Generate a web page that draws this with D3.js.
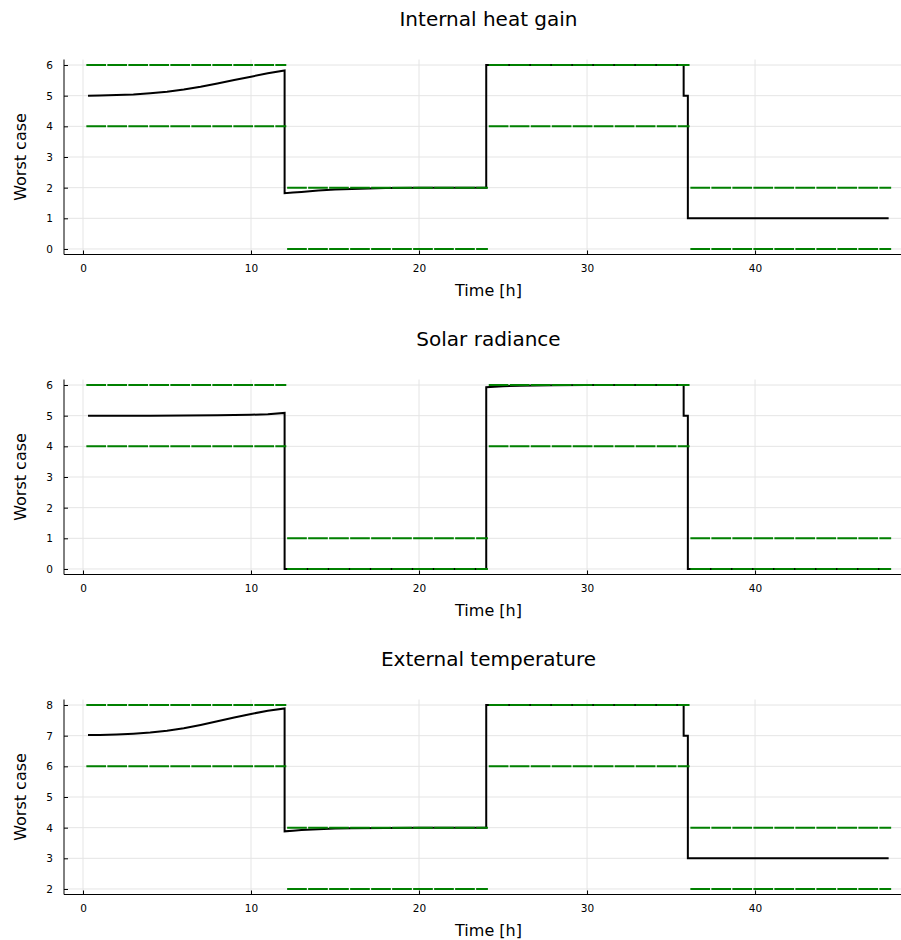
<!DOCTYPE html>
<html>
<head>
<meta charset="utf-8">
<script src="https://cdn.jsdelivr.net/npm/d3@7"></script>
<style>
  body { margin: 0; background: #fff; }
  svg { display: block; font-family: "DejaVu Sans", sans-serif; }
  .grid line { stroke: #e5e5e5; stroke-width: 1; }
  .tick-label { font-size: 10.5px; fill: #000; }
  .title { font-size: 20px; text-anchor: middle; }
  .label { font-size: 16px; text-anchor: middle; }
</style>
</head>
<body>
<div id="chart"></div>
<script>
// ---- data ----
const titles = ["Internal heat gain", "Solar radiance", "External temperature"];
const xTicks = [0, 10, 20, 30, 40];
const yTicks1 = [0, 1, 2, 3, 4, 5, 6];
const yTicks2 = [0, 1, 2, 3, 4, 5, 6];
const yTicks3 = [2, 3, 4, 5, 6, 7, 8];

// worst-case trajectories
const hours1 = [0.3, 1, 2, 3, 4, 5, 6, 7, 8, 9, 10, 11, 12, 12, 12.5, 13, 14, 15, 16, 18, 20, 22, 24, 24, 35.75, 35.75, 36, 36, 47.95];
const worst1 = [5.0, 5.005, 5.02, 5.04, 5.08, 5.13, 5.2, 5.29, 5.4, 5.51, 5.62, 5.73, 5.82, 1.82, 1.84, 1.86, 1.91, 1.94, 1.96, 1.985, 1.995, 2.0, 2.0, 6.0, 6.0, 5.0, 5.0, 1.0, 1.0];

const hours2 = [0.3, 4, 6, 8, 9, 10, 11, 12, 12, 24, 24, 25, 26, 28, 30, 35.75, 35.75, 36, 36, 47.95];
const worst2 = [5.0, 5.0, 5.005, 5.01, 5.02, 5.03, 5.05, 5.09, 0.0, 0.0, 5.93, 5.96, 5.98, 5.99, 6.0, 6.0, 5.0, 5.0, 0.0, 0.0];

const hours3 = [0.3, 1, 2, 3, 4, 5, 6, 7, 8, 9, 10, 11, 12, 12, 12.5, 13, 14, 15, 16, 18, 20, 22, 24, 24, 35.75, 35.75, 36, 36, 47.95];
const worst3 = [7.02, 7.025, 7.04, 7.065, 7.1, 7.16, 7.24, 7.35, 7.47, 7.59, 7.71, 7.81, 7.89, 3.88, 3.9, 3.92, 3.95, 3.97, 3.98, 3.99, 4.0, 4.0, 4.0, 8.0, 8.0, 7.0, 7.0, 3.0, 3.0];

// bound intervals (green dashed lines)
const boundStart = [0.2, 12.15, 24.15, 36.15];
const boundEnd = [12.1, 24.1, 36.1, 48.1];
const upper1 = [6, 2, 6, 2], lower1 = [4, 0, 4, 0];
const upper2 = [6, 1, 6, 1], lower2 = [4, 0, 4, 0];
const upper3 = [8, 4, 8, 4], lower3 = [6, 2, 6, 2];

// ---- layout ----
const width = 901, height = 940;
const plotLeft = 64, plotRight = 913;
const xDomain = [-1.13, 49.4];

const panels = [
  {title: titles[0], hours: hours1, worst: worst1, upper: upper1, lower: lower1, yTicks: yTicks1, yDomain: [-0.18, 6.18], top: 59.5},
  {title: titles[1], hours: hours2, worst: worst2, upper: upper2, lower: lower2, yTicks: yTicks2, yDomain: [-0.18, 6.18], top: 379.5},
  {title: titles[2], hours: hours3, worst: worst3, upper: upper3, lower: lower3, yTicks: yTicks3, yDomain: [1.82, 8.18], top: 699.5}
];
const plotHeight = 195;

const svg = d3.select("#chart").append("svg")
  .attr("width", width)
  .attr("height", height);

const x = d3.scaleLinear().domain(xDomain).range([plotLeft, plotRight]);

panels.forEach(p => {
  const bottom = p.top + plotHeight;
  const y = d3.scaleLinear().domain(p.yDomain).range([bottom, p.top]);
  const g = svg.append("g");

  // grid
  const grid = g.append("g").attr("class", "grid");
  grid.selectAll(".vx").data(xTicks).join("line")
    .attr("x1", d => x(d)).attr("x2", d => x(d))
    .attr("y1", p.top).attr("y2", bottom);
  grid.selectAll(".hy").data(p.yTicks).join("line")
    .attr("x1", plotLeft).attr("x2", plotRight)
    .attr("y1", d => y(d)).attr("y2", d => y(d));

  // worst case line
  const pts = p.hours.map((h, i) => [h, p.worst[i]]);
  g.append("path")
    .datum(pts)
    .attr("fill", "none")
    .attr("stroke", "#000")
    .attr("stroke-width", 2)
    .attr("stroke-linejoin", "miter")
    .attr("d", d3.line().x(d => x(d[0])).y(d => y(d[1])));

  // bounds
  const segs = [];
  boundStart.forEach((s, i) => {
    segs.push({s: s, e: boundEnd[i], v: p.upper[i]});
    segs.push({s: s, e: boundEnd[i], v: p.lower[i]});
  });
  g.selectAll(".bound").data(segs).join("line")
    .attr("class", "bound")
    .attr("x1", d => x(d.s)).attr("x2", d => x(d.e))
    .attr("y1", d => y(d.v)).attr("y2", d => y(d.v))
    .attr("stroke", "#008000")
    .attr("stroke-width", 2)
    .attr("stroke-dasharray", "19.7,1.3");

  // axes
  const xAxis = d3.axisBottom(x).tickValues(xTicks).tickFormat(d3.format("d")).tickSize(-4).tickPadding(10);
  const ax = g.append("g").attr("transform", `translate(0,${bottom})`).call(xAxis);
  const yAxis = d3.axisLeft(y).tickValues(p.yTicks).tickFormat(d3.format("d")).tickSize(-4).tickPadding(11);
  const ay = g.append("g").attr("transform", `translate(${plotLeft},0)`).call(yAxis);
  [ax, ay].forEach(a => {
    a.selectAll(".tick line").attr("stroke", "#000");
    a.selectAll(".tick text").attr("class", "tick-label");
    a.attr("font-family", null).attr("font-size", null);
    a.select(".domain").remove();
  });
  g.append("line").attr("x1", plotLeft).attr("x2", plotRight)
    .attr("y1", bottom).attr("y2", bottom).attr("stroke", "#000");
  g.append("line").attr("x1", plotLeft).attr("x2", plotLeft)
    .attr("y1", p.top).attr("y2", bottom).attr("stroke", "#000");

  // texts
  g.append("text").attr("class", "title")
    .attr("x", (plotLeft + plotRight) / 2).attr("y", p.top - 34)
    .text(p.title);
  g.append("text").attr("class", "label")
    .attr("x", (plotLeft + plotRight) / 2).attr("y", bottom + 41)
    .text("Time [h]");
  g.append("text").attr("class", "label")
    .attr("transform", `translate(26,${(p.top + bottom) / 2}) rotate(-90)`)
    .text("Worst case");
});
</script>
</body>
</html>
